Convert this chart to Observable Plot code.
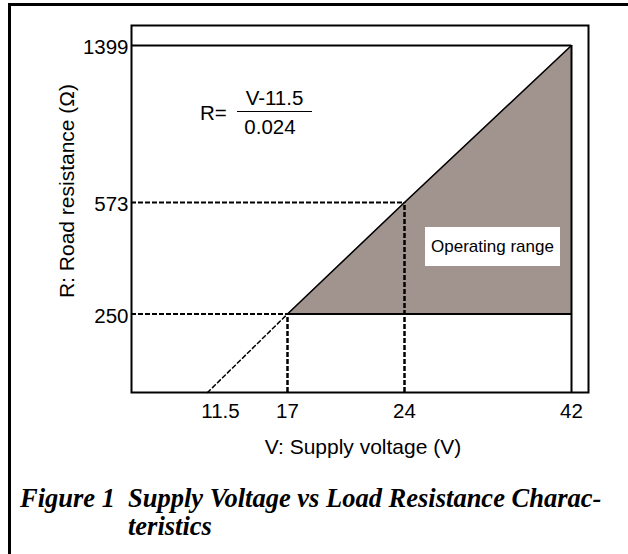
<!DOCTYPE html>
<html><head><meta charset="utf-8">
<script src="https://cdn.jsdelivr.net/npm/d3@7"></script>
<script src="https://cdn.jsdelivr.net/npm/@observablehq/plot@0.6"></script>
<style>
html,body{margin:0;padding:0;background:#fff;}
#wrap{position:relative;width:628px;height:554px;overflow:hidden;font-family:"Liberation Sans",Arial,sans-serif;color:#000;}
#chart{position:absolute;left:0;top:0;}
#border{position:absolute;left:8px;top:3px;width:640px;height:560px;border-left:3px solid #000;border-top:3px solid #000;}
.abs{position:absolute;white-space:nowrap;}
#req{left:200px;top:101px;font-size:20.5px;line-height:24px;}
#frac{left:237px;top:86px;width:75px;font-size:20.5px;line-height:24px;text-align:center;}
#num{border-bottom:1.5px solid #000;height:25px;}
#den{margin-top:3px;padding-right:9px;}
#oprange{left:425px;top:227px;width:135px;height:39px;background:#fff;font-size:17px;line-height:39px;text-align:center;}
.cap{font-family:"Liberation Serif","Times New Roman",serif;font-weight:bold;font-style:italic;font-size:26.5px;line-height:28px;top:484px;}
#figlabel{left:20px;}
#figtext{left:128px;}
</style></head><body>
<div id="wrap">
  <div id="border"></div>
  <div id="chart"></div>
  <div id="req" class="abs">R=</div>
  <div id="frac" class="abs"><div id="num">V-11.5</div><div id="den">0.024</div></div>
  <div id="oprange" class="abs">Operating range</div>
  <div id="figlabel" class="abs cap">Figure 1</div>
  <div id="figtext" class="abs cap">Supply Voltage vs Load Resistance Charac-<br>teristics</div>
</div>
<script>
const voltage = [11.5, 17, 24, 42];
const resistance = [0, 250, 573, 1399];
const xTicks = [11.5, 17, 24, 42];
const yTicks = [250, 573, 1399];
const xLabel = "V: Supply voltage (V)";
const yLabel = "R: Road resistance (Ω)";

const points = voltage.map((V, i) => ({V, R: resistance[i]}));
const floorPt = points[1];
const midPt = points[2];
const topPt = points[3];
const xMin = 6.3;
const dash = "5,2";

const chart = Plot.plot({
  width: 628,
  height: 470,
  marginLeft: 131,
  marginRight: 40,
  marginTop: 25,
  marginBottom: 78,
  style: {fontFamily: '"Liberation Sans", Arial, sans-serif', fontSize: "20.5px", background: "transparent", color: "#000", overflow: "visible"},
  x: {type: "linear", domain: [xMin, 11.5, 17, 24, 42, 43.8], range: [131, 207, 287, 404, 571, 588], axis: null},
  y: {type: "linear", domain: [0, 250, 573, 1399, 1504], range: [392, 313.5, 202, 45, 25], axis: null},
  marks: [
    Plot.areaY(points.slice(1), {x: "V", y1: floorPt.R, y2: "R", fill: "#a1948f"}),
    Plot.ruleX([floorPt, midPt], {x: "V", y1: 0, y2: "R", stroke: "#000", strokeWidth: 2.5, strokeDasharray: dash}),
    Plot.ruleY([floorPt, midPt], {y: "R", x1: xMin, x2: "V", stroke: "#000", strokeWidth: 2, strokeDasharray: dash}),
    Plot.ruleY([floorPt], {y: "R", x1: "V", x2: topPt.V, stroke: "#000", strokeWidth: 2}),
    Plot.line(points.slice(0, 2), {x: "V", y: "R", stroke: "#000", strokeWidth: 1.5, strokeDasharray: "4,3"}),
    Plot.line(points.slice(1), {x: "V", y: "R", stroke: "#000", strokeWidth: 1.5}),
    Plot.ruleY([topPt], {y: "R", x1: xMin, x2: "V", stroke: "#000", strokeWidth: 2}),
    Plot.ruleX([topPt], {x: "V", y1: 0, y2: "R", stroke: "#000", strokeWidth: 2}),
    Plot.frame({stroke: "#000", strokeWidth: 2}),
    Plot.text(yTicks, {y: d => d, text: d => String(d), frameAnchor: "left", textAnchor: "end", lineAnchor: "middle", dx: -3, dy: 2, fill: "#000"}),
    Plot.text(xTicks.filter(d => d !== 11.5), {x: d => d, text: d => String(d), frameAnchor: "bottom", lineAnchor: "middle", textAnchor: "middle", dy: 19, fill: "#000"}),
    Plot.text(xTicks.filter(d => d === 11.5), {x: d => d, text: d => String(d), frameAnchor: "bottom", lineAnchor: "middle", textAnchor: "middle", dx: 13, dy: 19, fill: "#000"}),
    Plot.text([xLabel], {text: d => d, frameAnchor: "bottom", lineAnchor: "middle", textAnchor: "middle", dx: 3, dy: 55, fontSize: 21, fill: "#000"}),
    Plot.text([yLabel], {text: d => d, frameAnchor: "left", lineAnchor: "middle", textAnchor: "middle", rotate: -90, dx: -64, dy: -18, fontSize: 21, fill: "#000"})
  ]
});
document.getElementById("chart").appendChild(chart);
</script>
</body></html>
